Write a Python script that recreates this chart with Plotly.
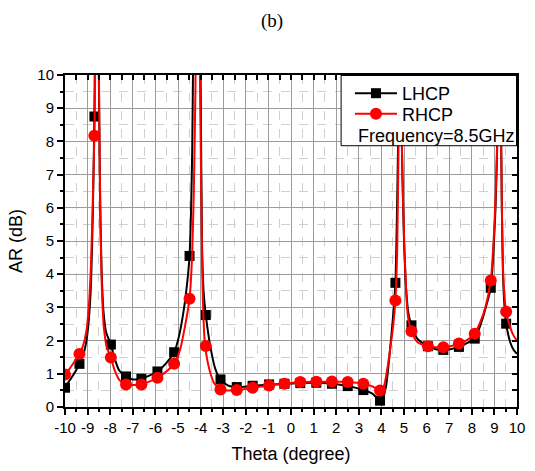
import plotly.graph_objects as go

# ---------------- data ----------------
theta_pts = [-10.0, -9.36, -8.7, -7.97, -7.3, -6.62, -5.91, -5.17, -4.49, -3.77,
             -3.12, -2.4, -1.7, -0.97, -0.29, 0.41, 1.12, 1.81, 2.51, 3.2,
             3.94, 4.62, 5.33, 6.06, 6.74, 7.43, 8.13, 8.84, 9.52]
lhcp_pts = [0.58, 1.30, 8.75, 1.88, 0.92, 0.85, 1.07, 1.65, 4.55, 2.77,
            0.83, 0.60, 0.64, 0.68, 0.70, 0.72, 0.73, 0.70, 0.63, 0.51,
            0.19, 3.74, 2.46, 1.83, 1.72, 1.81, 2.06, 3.59, 2.51]
rhcp_pts = [0.98, 1.60, 8.17, 1.49, 0.68, 0.68, 0.88, 1.30, 3.26, 1.84,
            0.53, 0.51, 0.58, 0.65, 0.70, 0.75, 0.76, 0.77, 0.75, 0.70,
            0.50, 3.21, 2.28, 1.83, 1.80, 1.91, 2.21, 3.81, 2.87]

lhcp_curve_theta = [-10.0, -9.8, -9.6, -9.36, -9.2, -9.05, -8.95, -8.85, -8.77, -8.7,
                    -8.66, -8.6, -8.54, -8.49, -8.44, -8.38, -8.3, -8.18, -7.97, -7.8,
                    -7.6, -7.3, -7.0, -6.62, -6.25, -5.91, -5.55, -5.17, -4.95, -4.75,
                    -4.6, -4.49, -4.42, -4.37, -4.33, -4.27, -4.18, -4.08, -4.0, -3.94,
                    -3.87, -3.77, -3.55, -3.35, -3.12, -2.8, -2.4, -1.7, -0.97, -0.29,
                    0.41, 1.12, 1.81, 2.51, 3.2, 3.6, 3.94, 4.05, 4.2, 4.35,
                    4.5, 4.62, 4.68, 4.74, 4.8, 4.86, 4.93, 5.0, 5.1, 5.2,
                    5.33, 5.6, 6.06, 6.4, 6.74, 7.1, 7.43, 7.8, 8.13, 8.4,
                    8.6, 8.84, 8.95, 9.05, 9.13, 9.2, 9.28, 9.33, 9.38, 9.45,
                    9.52, 9.7, 9.85, 10.0]
lhcp_curve_ar = [0.58, 0.8, 1.0, 1.30, 1.55, 2.0, 2.6, 3.7, 5.8, 8.75,
                 12.0, 16.0, 13.0, 9.0, 6.0, 4.1, 2.9, 2.25, 1.88, 1.45,
                 1.1, 0.92, 0.83, 0.85, 0.95, 1.07, 1.3, 1.65, 2.15, 2.9,
                 3.7, 4.55, 6.0, 7.8, 10.5, 14.0, 16.0, 14.0, 10.0, 5.0,
                 3.5, 2.77, 1.75, 1.15, 0.83, 0.65, 0.60, 0.64, 0.68, 0.70,
                 0.72, 0.73, 0.70, 0.63, 0.51, 0.40, 0.19, 0.25, 0.6, 1.5,
                 2.6, 3.74, 5.5, 8.0, 11.0, 9.5, 7.0, 5.0, 3.5, 2.8,
                 2.46, 2.05, 1.83, 1.74, 1.72, 1.75, 1.81, 1.93, 2.06, 2.5,
                 2.95, 3.59, 4.6, 6.0, 8.0, 11.0, 9.0, 6.0, 4.0, 3.0,
                 2.51, 1.95, 1.72, 1.6]

rhcp_curve_theta = [-10.0, -9.8, -9.6, -9.36, -9.2, -9.05, -8.95, -8.85, -8.77, -8.7,
                    -8.65, -8.58, -8.52, -8.48, -8.43, -8.37, -8.28, -8.15, -7.97, -7.8,
                    -7.6, -7.3, -6.95, -6.62, -6.25, -5.91, -5.55, -5.17, -4.9, -4.7,
                    -4.49, -4.38, -4.3, -4.23, -4.15, -4.08, -4.03, -3.98, -3.93, -3.88,
                    -3.8, -3.6, -3.4, -3.12, -2.8, -2.4, -1.7, -0.97, -0.29, 0.41,
                    1.12, 1.81, 2.51, 3.2, 3.6, 3.94, 4.1, 4.25, 4.4, 4.53,
                    4.62, 4.7, 4.76, 4.81, 4.87, 4.93, 5.0, 5.1, 5.18, 5.33,
                    5.6, 6.06, 6.4, 6.74, 7.1, 7.43, 7.8, 8.13, 8.4, 8.6,
                    8.84, 8.95, 9.05, 9.13, 9.2, 9.28, 9.33, 9.38, 9.45, 9.52,
                    9.7, 9.85, 10.0]
rhcp_curve_ar = [0.98, 1.15, 1.35, 1.60, 1.85, 2.3, 3.0, 4.3, 6.2, 8.17,
                 11.0, 15.0, 12.0, 8.5, 5.5, 3.6, 2.4, 1.8, 1.49, 1.1,
                 0.82, 0.68, 0.66, 0.68, 0.77, 0.88, 1.05, 1.30, 1.75, 2.4,
                 3.26, 4.5, 6.5, 9.5, 14.0, 13.0, 10.0, 7.0, 4.2, 2.8,
                 1.84, 1.1, 0.72, 0.53, 0.50, 0.51, 0.58, 0.65, 0.70, 0.75,
                 0.76, 0.77, 0.75, 0.70, 0.62, 0.50, 0.6, 1.1, 1.8, 2.5,
                 3.21, 4.8, 8.0, 11.0, 9.5, 7.0, 5.2, 3.4, 2.7, 2.28,
                 1.95, 1.83, 1.8, 1.80, 1.84, 1.91, 2.02, 2.21, 2.6, 3.0,
                 3.81, 4.8, 6.3, 8.2, 11.0, 9.0, 6.0, 4.2, 3.3, 2.87,
                 2.4, 2.15, 2.0]

x_tickvals = list(range(-10, 11))
x_ticklabels = ["-10", "-9", "-8", "-7", "-6", "-5", "-4", "-3", "-2", "-1", "0",
                "1", "2", "3", "4", "5", "6", "7", "8", "9", "10"]
y_tickvals = list(range(0, 11))

FONT = "Arial, Liberation Sans, sans-serif"
L, R, T, B = 65, 10, 75, 58
W, H = 535, 471
PW, PH = W - L - R, H - T - B


def px_x(px):
    return (px - L) / PW


def px_y(py):
    return (T + PH - py) / PH


fig = go.Figure()

# curves
fig.add_trace(go.Scatter(x=lhcp_curve_theta, y=lhcp_curve_ar, mode="lines",
                         line=dict(color="black", width=2, shape="spline", smoothing=0.6),
                         showlegend=False, hoverinfo="skip"))
fig.add_trace(go.Scatter(x=theta_pts, y=lhcp_pts, mode="markers",
                         marker=dict(symbol="square", size=10, color="black"),
                         showlegend=False))
fig.add_trace(go.Scatter(x=rhcp_curve_theta, y=rhcp_curve_ar, mode="lines",
                         line=dict(color="red", width=2, shape="spline", smoothing=0.6),
                         showlegend=False, hoverinfo="skip"))
fig.add_trace(go.Scatter(x=theta_pts, y=rhcp_pts, mode="markers",
                         marker=dict(symbol="circle", size=12, color="red"),
                         showlegend=False))
# legend entries (two legends so their spacing can follow the reference)
fig.add_trace(go.Scatter(x=[None], y=[None], mode="lines+markers", name="LHCP",
                         line=dict(color="black", width=2), legend="legend",
                         marker=dict(symbol="square", size=10, color="black")))
fig.add_trace(go.Scatter(x=[None], y=[None], mode="lines+markers", name="RHCP",
                         line=dict(color="red", width=2), legend="legend2",
                         marker=dict(symbol="circle", size=12, color="red")))
# dummy trace for mirrored (top/right) axes
fig.add_trace(go.Scatter(x=[None], y=[None], xaxis="x2", yaxis="y2",
                         showlegend=False, hoverinfo="skip"))

major_grid = "#9c9c9c"
minor_grid = "#cfcfcf"

leg_common = dict(xanchor="left", yanchor="top", bgcolor="rgba(0,0,0,0)", borderwidth=0,
                  font=dict(size=18, family=FONT, color="black"), itemwidth=42)

fig.update_layout(
    width=W, height=H,
    margin=dict(l=L, r=R, t=T, b=B),
    paper_bgcolor="white", plot_bgcolor="white",
    font=dict(family=FONT, color="black"),
    title=dict(text="(b)", x=272 / W, xref="container", xanchor="center",
               y=1 - 20 / H, yref="container", yanchor="middle",
               font=dict(family="Times New Roman, Liberation Serif, serif", size=19, color="black")),
    xaxis=dict(range=[-10, 10], tickmode="array", tickvals=x_tickvals, ticktext=x_ticklabels,
               ticks="outside", ticklen=6, tickwidth=1.5, tickcolor="black",
               showline=True, linecolor="black", linewidth=2,
               showgrid=True, gridcolor=major_grid, gridwidth=1, zeroline=False,
               tickfont=dict(size=15, family=FONT),
               minor=dict(tickmode="linear", tick0=-10, dtick=0.5, ticks="outside", ticklen=3,
                          tickwidth=1.5, tickcolor="black", showgrid=True,
                          gridcolor=minor_grid, griddash="dash", gridwidth=1),
               title=dict(text="Theta (degree)", font=dict(size=18, family=FONT), standoff=12)),
    yaxis=dict(range=[0, 10], tickmode="array", tickvals=y_tickvals,
               ticks="outside", ticklen=6, tickwidth=1.5, tickcolor="black",
               showline=True, linecolor="black", linewidth=2,
               showgrid=True, gridcolor=major_grid, gridwidth=1, zeroline=False,
               tickfont=dict(size=15, family=FONT),
               minor=dict(tickmode="linear", tick0=0, dtick=0.5, ticks="outside", ticklen=3,
                          tickwidth=1.5, tickcolor="black", showgrid=True,
                          gridcolor=minor_grid, griddash="dash", gridwidth=1),
               title=dict(text="AR (dB)", font=dict(size=18, family=FONT), standoff=10)),
    xaxis2=dict(range=[-10, 10], overlaying="x", side="top", tickmode="array",
                tickvals=x_tickvals, ticks="inside", ticklen=5, tickwidth=1.5, tickcolor="black",
                showticklabels=False, showline=True, linecolor="black", linewidth=2,
                showgrid=False, zeroline=False,
                minor=dict(tickmode="linear", tick0=-10, dtick=0.5, ticks="inside", ticklen=5,
                           tickwidth=1.5, tickcolor="black", showgrid=False)),
    yaxis2=dict(range=[0, 10], overlaying="y", side="right", tickmode="array",
                tickvals=y_tickvals, ticks="inside", ticklen=5, tickwidth=1.5, tickcolor="black",
                showticklabels=False, showline=True, linecolor="black", linewidth=2,
                showgrid=False, zeroline=False,
                minor=dict(tickmode="linear", tick0=0, dtick=0.5, ticks="inside", ticklen=5,
                           tickwidth=1.5, tickcolor="black", showgrid=False)),
    legend=dict(x=px_x(355), y=px_y(75), **leg_common),
    legend2=dict(x=px_x(355), y=px_y(96), **leg_common),
)

# legend box
bx0 = px_x(346)
by0 = px_y(147)
fig.add_shape(type="rect", xref="paper", yref="paper", x0=bx0, x1=1, y0=by0, y1=1,
              fillcolor="white", line=dict(color="black", width=1), layer="above")
fig.add_shape(type="line", xref="paper", yref="paper", x0=bx0, x1=1, y0=1, y1=1,
              line=dict(color="black", width=2), layer="above")
fig.add_shape(type="line", xref="paper", yref="paper", x0=1, x1=1, y0=by0, y1=1,
              line=dict(color="black", width=2), layer="above")

fig.add_annotation(text="Frequency=8.5GHz", xref="paper", yref="paper",
                   x=px_x(361), y=px_y(137), xanchor="left", yanchor="middle",
                   showarrow=False, font=dict(size=18, family=FONT, color="black"))

fig.write_html("out.html")
